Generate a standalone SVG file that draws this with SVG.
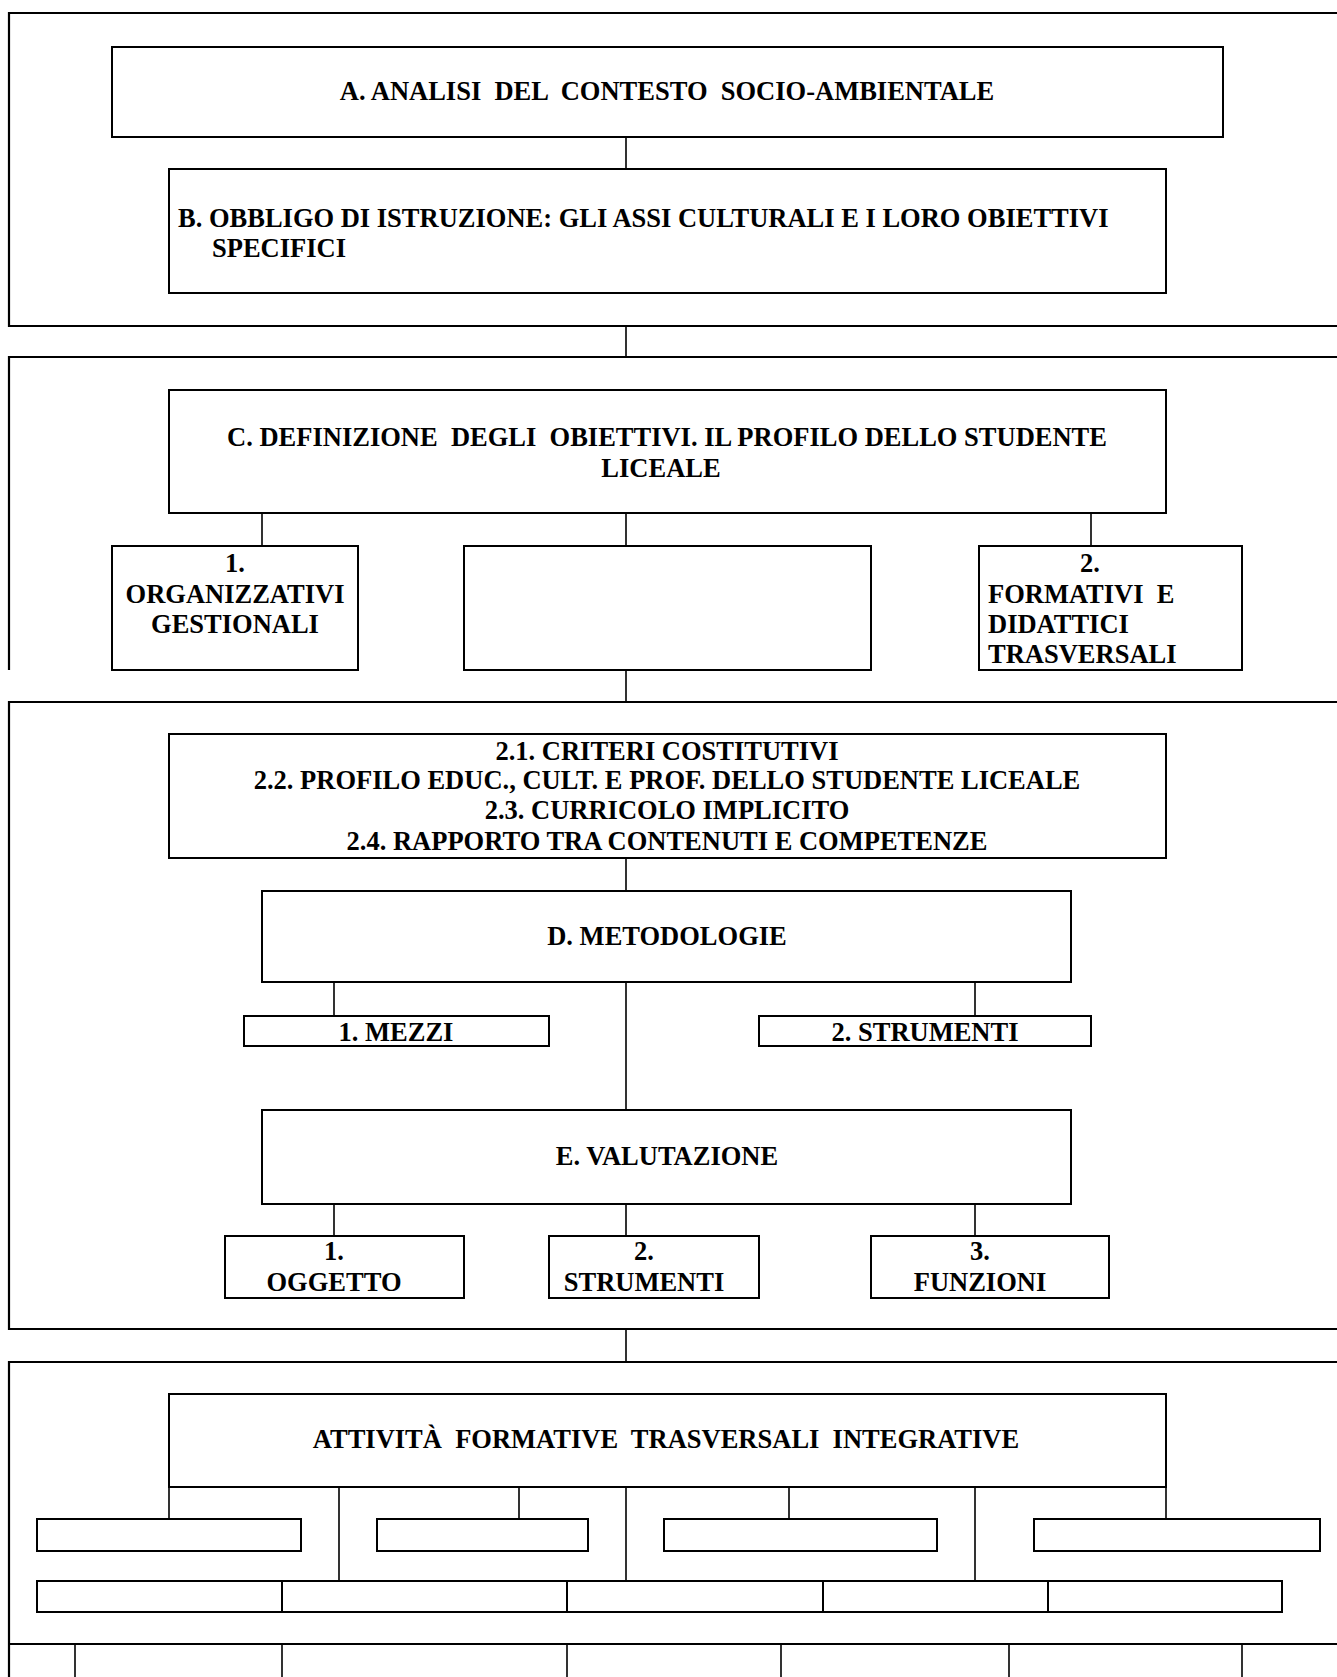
<svg xmlns="http://www.w3.org/2000/svg" width="1337" height="1677" viewBox="0 0 1337 1677">
<style>
.bg{fill:#fff}
.box{fill:#fff;stroke:#000;stroke-width:2}
.frame{fill:none;stroke:#000;stroke-width:2.2}
.ln{fill:none;stroke:#000;stroke-width:1.6}
text{font-family:"Liberation Serif","Times New Roman",serif;font-weight:bold;font-size:26.5px;fill:#000;white-space:pre}
.c{text-anchor:middle}
</style>
<rect class="bg" x="0" y="0" width="1337" height="1677"/>
<g id="frames">
<path class="frame" d="M1337,13 H9 V326 H1337"/>
<path class="frame" d="M1337,357 H9 V670"/>
<path class="frame" d="M1337,702 H9 V1329 H1337"/>
<path class="frame" d="M1337,1362 H9 V1677 M9,1644 H1337"/>
</g>
<g id="connectors">
<path class="ln" d="M626,137 V168 M626,326 V357"/>
<path class="ln" d="M262,513 V546 M626,513 V546 M1091,513 V546 M626,670 V702"/>
<path class="ln" d="M626,858 V891 M334,982 V1016 M975,982 V1016 M626,982 V1109"/>
<path class="ln" d="M334,1204 V1236 M626,1204 V1236 M975,1204 V1236 M626,1329 V1362"/>
<path class="ln" d="M169,1487 V1519 M339,1487 V1581 M519,1487 V1519 M626,1487 V1581 M789,1487 V1519 M975,1487 V1581 M1166,1487 V1519"/>
<path class="ln" d="M75,1644 V1677 M282,1644 V1677 M567,1644 V1677 M781,1644 V1677 M1009,1644 V1677 M1242,1644 V1677"/>
</g>
<g id="nodeA"><rect class="box" x="112" y="47" width="1111" height="90"/>
<text class="c" x="667" y="100">A. ANALISI  DEL  CONTESTO  SOCIO-AMBIENTALE</text></g>
<g id="nodeB"><rect class="box" x="169" y="169" width="997" height="124"/>
<text x="178" y="227">B. OBBLIGO DI ISTRUZIONE: GLI ASSI CULTURALI E I LORO OBIETTIVI</text>
<text x="212" y="257">SPECIFICI</text></g>
<g id="nodeC"><rect class="box" x="169" y="390" width="997" height="123"/>
<text class="c" x="667" y="446">C. DEFINIZIONE  DEGLI  OBIETTIVI. IL PROFILO DELLO STUDENTE</text>
<text class="c" x="661" y="477">LICEALE</text></g>
<g id="nodeC1"><rect class="box" x="112" y="546" width="246" height="124"/>
<text class="c" x="235" y="572">1.</text>
<text class="c" x="235" y="603">ORGANIZZATIVI</text>
<text class="c" x="235" y="633">GESTIONALI</text></g>
<g id="nodeCmid"><rect class="box" x="464" y="546" width="407" height="124"/></g>
<g id="nodeC2"><rect class="box" x="979" y="546" width="263" height="124"/>
<text class="c" x="1090" y="572">2.</text>
<text x="988" y="603">FORMATIVI  E</text>
<text x="988" y="633">DIDATTICI</text>
<text x="988" y="663">TRASVERSALI</text></g>
<g id="node2x"><rect class="box" x="169" y="734" width="997" height="124"/>
<text class="c" x="667" y="760">2.1. CRITERI COSTITUTIVI</text>
<text class="c" x="667" y="789">2.2. PROFILO EDUC., CULT. E PROF. DELLO STUDENTE LICEALE</text>
<text class="c" x="667" y="819">2.3. CURRICOLO IMPLICITO</text>
<text class="c" x="667" y="850">2.4. RAPPORTO TRA CONTENUTI E COMPETENZE</text></g>
<g id="nodeD"><rect class="box" x="262" y="891" width="809" height="91"/>
<text class="c" x="667" y="945">D. METODOLOGIE</text></g>
<g id="nodeD1"><rect class="box" x="244" y="1016" width="305" height="30"/>
<text class="c" x="396" y="1041">1. MEZZI</text></g>
<g id="nodeD2"><rect class="box" x="759" y="1016" width="332" height="30"/>
<text class="c" x="925" y="1041">2. STRUMENTI</text></g>
<g id="nodeE"><rect class="box" x="262" y="1110" width="809" height="94"/>
<text class="c" x="667" y="1165">E. VALUTAZIONE</text></g>
<g id="nodeE1"><rect class="box" x="225" y="1236" width="239" height="62"/>
<text class="c" x="334" y="1260">1.</text>
<text class="c" x="334" y="1291">OGGETTO</text></g>
<g id="nodeE2"><rect class="box" x="549" y="1236" width="210" height="62"/>
<text class="c" x="644" y="1260">2.</text>
<text class="c" x="644" y="1291">STRUMENTI</text></g>
<g id="nodeE3"><rect class="box" x="871" y="1236" width="238" height="62"/>
<text class="c" x="980" y="1260">3.</text>
<text class="c" x="980" y="1291">FUNZIONI</text></g>
<g id="nodeF"><rect class="box" x="169" y="1394" width="997" height="93"/>
<text class="c" x="666" y="1448">ATTIVITÀ  FORMATIVE  TRASVERSALI  INTEGRATIVE</text></g>
<g id="nodeF1"><rect class="box" x="37" y="1519" width="264" height="32"/></g>
<g id="nodeF2"><rect class="box" x="377" y="1519" width="211" height="32"/></g>
<g id="nodeF3"><rect class="box" x="664" y="1519" width="273" height="32"/></g>
<g id="nodeF4"><rect class="box" x="1034" y="1519" width="286" height="32"/></g>
<g id="nodeRow2">
<rect class="box" x="37" y="1581" width="245" height="31"/>
<rect class="box" x="282" y="1581" width="285" height="31"/>
<rect class="box" x="567" y="1581" width="256" height="31"/>
<rect class="box" x="823" y="1581" width="225" height="31"/>
<rect class="box" x="1048" y="1581" width="234" height="31"/>
</g>
</svg>
